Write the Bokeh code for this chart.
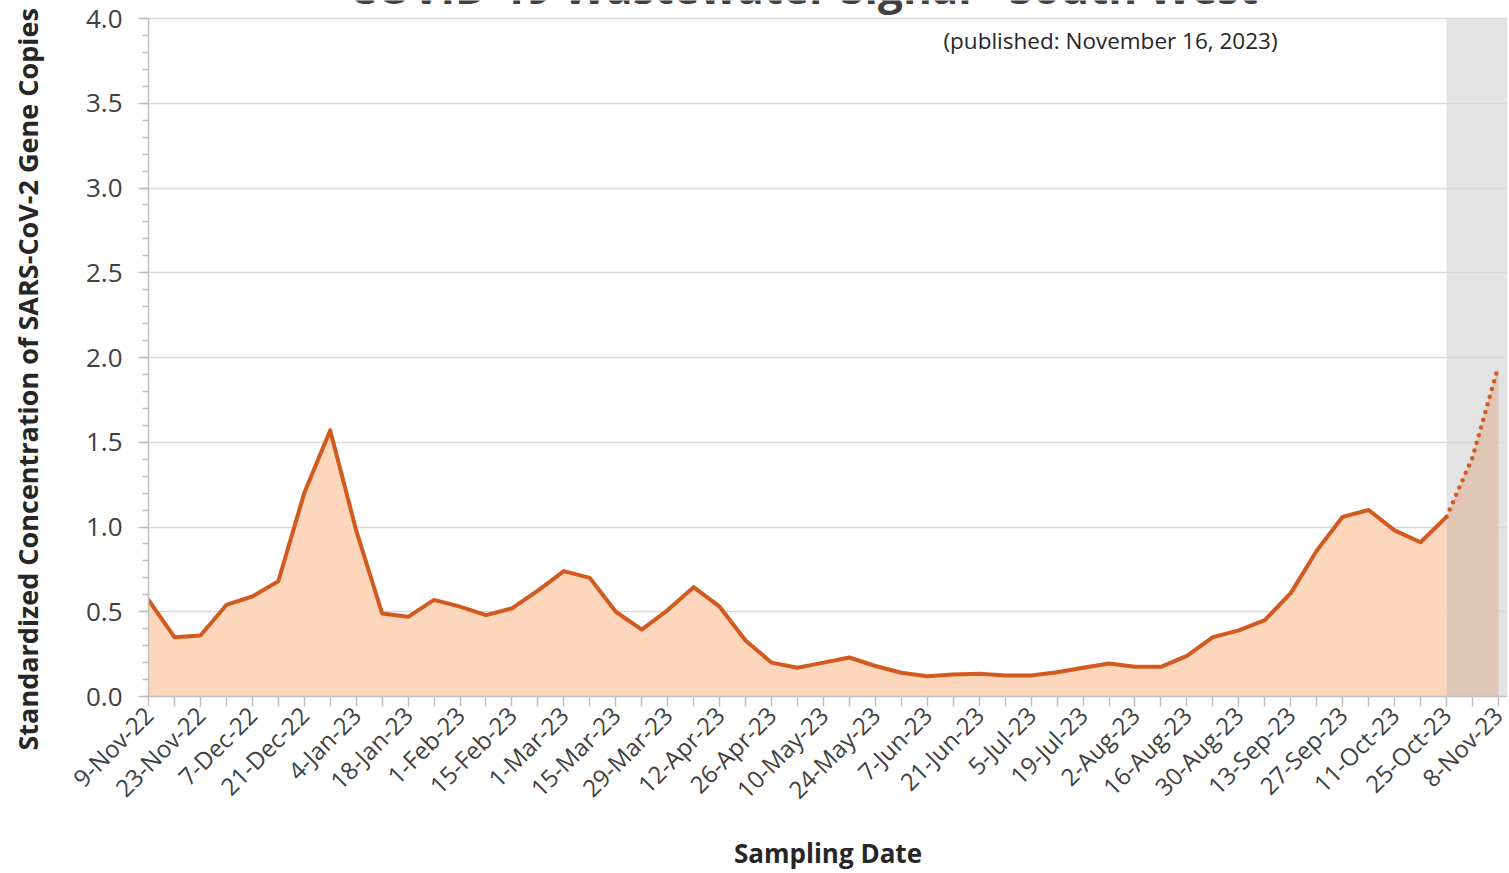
import math
from bokeh.plotting import figure
from bokeh.layouts import row
from bokeh.models import Label, BoxAnnotation, FixedTicker, Range1d, Title
from bokeh.embed import file_html
from bokeh.resources import INLINE

# ---------------- data ----------------
title_text = "COVID-19 Wastewater Signal - South West"
published_text = "(published: November 16, 2023)"
x_title = "Sampling Date"
y_title = "Standardized Concentration of SARS-CoV-2 Gene Copies"

# weekly sampling index (0 = 9-Nov-22 ... 52 = 8-Nov-23)
week = list(range(53))
signal = [
    0.57, 0.35, 0.36, 0.54, 0.59, 0.68, 1.20, 1.57, 0.98, 0.49,
    0.47, 0.57, 0.53, 0.48, 0.52, 0.625, 0.74, 0.70, 0.50, 0.395,
    0.51, 0.645, 0.53, 0.33, 0.20, 0.17, 0.20, 0.23, 0.18, 0.14,
    0.12, 0.13, 0.134, 0.124, 0.124, 0.143, 0.17, 0.195, 0.175, 0.175,
    0.24, 0.35, 0.39, 0.45, 0.61, 0.86, 1.06, 1.10, 0.98, 0.91,
    1.06, 1.41, 1.95,
]
forecast_start = 50  # index from which values are provisional (shaded, dotted)

date_labels = [
    "9-Nov-22", "23-Nov-22", "7-Dec-22", "21-Dec-22", "4-Jan-23", "18-Jan-23",
    "1-Feb-23", "15-Feb-23", "1-Mar-23", "15-Mar-23", "29-Mar-23", "12-Apr-23",
    "26-Apr-23", "10-May-23", "24-May-23", "7-Jun-23", "21-Jun-23", "5-Jul-23",
    "19-Jul-23", "2-Aug-23", "16-Aug-23", "30-Aug-23", "13-Sep-23", "27-Sep-23",
    "11-Oct-23", "25-Oct-23", "8-Nov-23",
]
y_ticks = [0.0, 0.5, 1.0, 1.5, 2.0, 2.5, 3.0, 3.5, 4.0]
y_tick_labels = ["0.0", "0.5", "1.0", "1.5", "2.0", "2.5", "3.0", "3.5", "4.0"]
y_minor = [round(i * 0.1, 1) for i in range(41)]

# ---------------- style ----------------
LINE = "#D35A1E"
FILL = "#FDD6BC"
FILL_FC = "#DFC6B5"
BAND = "#E3E3E3"
AXIS = "#BFBFBF"
TXT = "#404040"
DARK = "#262626"
FONT = "Open Sans"

# ---- narrow panel holding the rotated y-axis title ----
p0 = figure(width=60, height=873, output_backend="svg", toolbar_location=None,
            x_axis_location=None, y_axis_location=None,
            x_range=Range1d(0, 1), y_range=Range1d(0, 1),
            min_border_left=0, min_border_right=0, min_border_top=0, min_border_bottom=0)
p0.outline_line_color = None
p0.grid.visible = False
p0.border_fill_color = "white"
p0.add_layout(Title(text=y_title, align="left", offset=-54, standoff=13,
                    text_font=FONT, text_font_size="27px", text_font_style="bold",
                    text_color=DARK), "left")

# ---- main chart ----
p = figure(width=1449, height=873, output_backend="svg", toolbar_location=None,
           x_range=Range1d(0, 52.35), y_range=Range1d(0, 4.1062),
           min_border_left=88, min_border_right=2, min_border_top=0,
           min_border_bottom=177)
p.outline_line_color = None
p.background_fill_color = "white"
p.border_fill_color = "white"

# shaded provisional band
band = BoxAnnotation(left=week[forecast_start], top=y_ticks[-1], fill_color=BAND,
                     fill_alpha=1.0, line_color=None, level="image")
p.add_layout(band)

# grid
p.xgrid.visible = False
p.ygrid.grid_line_color = "#D9D9D9"
p.ygrid.grid_line_width = 1.5
p.ygrid.ticker = FixedTicker(ticks=y_ticks)

# area fills
p.varea(x=week[:forecast_start + 1], y1=0, y2=signal[:forecast_start + 1],
        fill_color=FILL, fill_alpha=1.0)
p.varea(x=week[forecast_start:], y1=0, y2=signal[forecast_start:],
        fill_color=FILL_FC, fill_alpha=1.0)

# lines
p.line(week[:forecast_start + 1], signal[:forecast_start + 1], line_color=LINE,
       line_width=4, line_join="round", line_cap="round")
p.line(week[forecast_start:], signal[forecast_start:], line_color=LINE,
       line_width=4.5, line_dash="0 8", line_cap="round", line_join="round")

# y axis
ya = p.yaxis[0]
ya.bounds = (y_ticks[0], y_ticks[-1])
ya.ticker = FixedTicker(ticks=y_ticks, minor_ticks=y_minor)
ya.major_label_overrides = {t: l for t, l in zip(y_ticks, y_tick_labels)}
ya.axis_line_color = AXIS
ya.axis_line_width = 1.5
ya.major_tick_line_color = AXIS
ya.minor_tick_line_color = AXIS
ya.major_tick_line_width = 1.5
ya.minor_tick_line_width = 1.5
ya.major_tick_out = 10
ya.major_tick_in = 0
ya.minor_tick_out = 6
ya.minor_tick_in = 0
ya.major_label_standoff = 16
ya.major_label_text_font = FONT
ya.major_label_text_font_size = "26px"
ya.major_label_text_color = TXT

# x axis
xa = p.xaxis[0]
xa.ticker = FixedTicker(ticks=week, minor_ticks=[])
overrides = {}
for w in week:
    overrides[w] = date_labels[w // 2] if w % 2 == 0 else ""
xa.major_label_overrides = overrides
xa.major_label_orientation = math.pi / 4
xa.axis_line_color = AXIS
xa.axis_line_width = 1.5
xa.major_tick_line_color = AXIS
xa.major_tick_line_width = 1.5
xa.major_tick_out = 10
xa.major_tick_in = 0
xa.minor_tick_line_color = None
xa.major_label_standoff = 4
xa.major_label_text_font = FONT
xa.major_label_text_font_size = "24px"
xa.major_label_text_color = TXT
xa.axis_label = x_title
xa.axis_label_standoff = 15
xa.axis_label_text_font = FONT
xa.axis_label_text_font_size = "26px"
xa.axis_label_text_font_style = "bold"
xa.axis_label_text_color = DARK

# chart title (cut at the top edge as in the source) and publication note
p.add_layout(Label(x=0, y=0, x_offset=655, y_offset=710, x_units="screen",
                   y_units="screen", text=title_text,
                   text_font=FONT, text_font_size="44px", text_font_style="bold",
                   text_color="#404040", text_align="center", text_baseline="middle"))
p.add_layout(Label(x=0, y=0, x_offset=962, y_offset=656, x_units="screen",
                   y_units="screen", text=published_text,
                   text_font=FONT, text_font_size="22.5px", text_color=DARK,
                   text_align="center", text_baseline="middle"))

layout = row(p0, p)
open("out.html", "w").write(file_html(layout, INLINE))
